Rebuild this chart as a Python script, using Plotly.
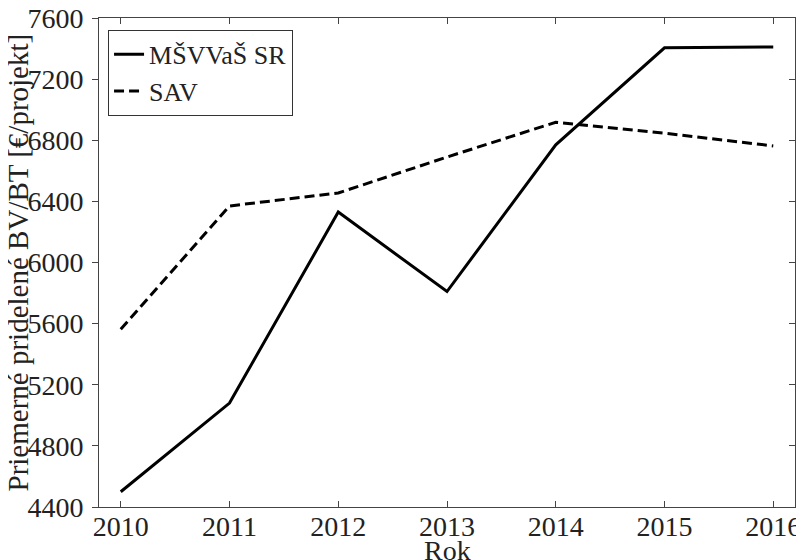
import plotly.graph_objects as go

years = [2010, 2011, 2012, 2013, 2014, 2015, 2016]
msvvas = [4500, 5080, 6330, 5810, 6770, 7405, 7410]
sav = [5563, 6370, 6455, 6690, 6918, 6846, 6763]
yticks = [4400, 4800, 5200, 5600, 6000, 6400, 6800, 7200, 7600]

FONT = "Liberation Serif"
FS = 28
fig = go.Figure()
fig.add_trace(go.Scatter(x=years, y=msvvas, mode="lines", name="MŠVVaŠ SR",
                         line=dict(color="black", width=3)))
fig.add_trace(go.Scatter(x=years, y=sav, mode="lines", name="SAV",
                         line=dict(color="black", width=3, dash="10px,5px")))
fig.add_trace(go.Scatter(x=years, y=sav, mode="lines", yaxis="y2", showlegend=False,
                         line=dict(color="rgba(0,0,0,0)", width=0), hoverinfo="skip"))

# page body has an 8px default margin, so the figure is 8px smaller
W, H = 796, 552
L, R, T, B = 91, 9, 10, 53
pw, ph = W - L - R, H - T - B

fig.update_layout(
    width=W, height=H,
    margin=dict(l=L, r=R, t=T, b=B, autoexpand=False),
    paper_bgcolor="white", plot_bgcolor="white",
    font=dict(family=FONT, size=FS, color="#222"),
    showlegend=True,
    legend=dict(x=0.013, y=0.976, xanchor="left", yanchor="top",
                bordercolor="#333", borderwidth=1, bgcolor="white",
                font=dict(family=FONT, size=26, color="#222"),
                itemwidth=30, tracegroupgap=0),
    xaxis=dict(range=[2009.8, 2016.2], tickvals=years, ticks="inside", ticklen=6,
               tickcolor="#444", showline=True, linecolor="#444", linewidth=1,
               mirror="ticks", showgrid=False, zeroline=False, automargin=False,
               ticklabeloverflow="allow", ticklabelstandoff=-6,
               tickfont=dict(size=FS)),
    yaxis=dict(range=[4400, 7600], tickvals=yticks, ticks="outside", ticklen=6,
               tickcolor="#444", showline=True, linecolor="#444", linewidth=1,
               showgrid=False, zeroline=False, automargin=False,
               ticklabeloverflow="allow", ticklabelstandoff=3,
               tickfont=dict(size=FS)),
    yaxis2=dict(range=[4400, 7600], tickvals=yticks, ticks="inside", ticklen=6,
                tickcolor="#444", showline=True, linecolor="#444", linewidth=1,
                overlaying="y", side="right", showticklabels=False,
                showgrid=False, zeroline=False, automargin=False),
    annotations=[
        dict(text="Priemerné pridelené BV/BT [€/projekt]", textangle=-90,
             xref="paper", yref="paper", x=(9 - L) / pw, y=0.5,
             xanchor="center", yanchor="middle", showarrow=False,
             font=dict(family=FONT, size=29, color="#222")),
        dict(text="Rok", xref="paper", yref="paper", x=0.5, y=-43 / ph,
             xanchor="center", yanchor="middle", showarrow=False,
             font=dict(family=FONT, size=FS, color="#222")),
    ],
)

fig.write_html("out.html")
